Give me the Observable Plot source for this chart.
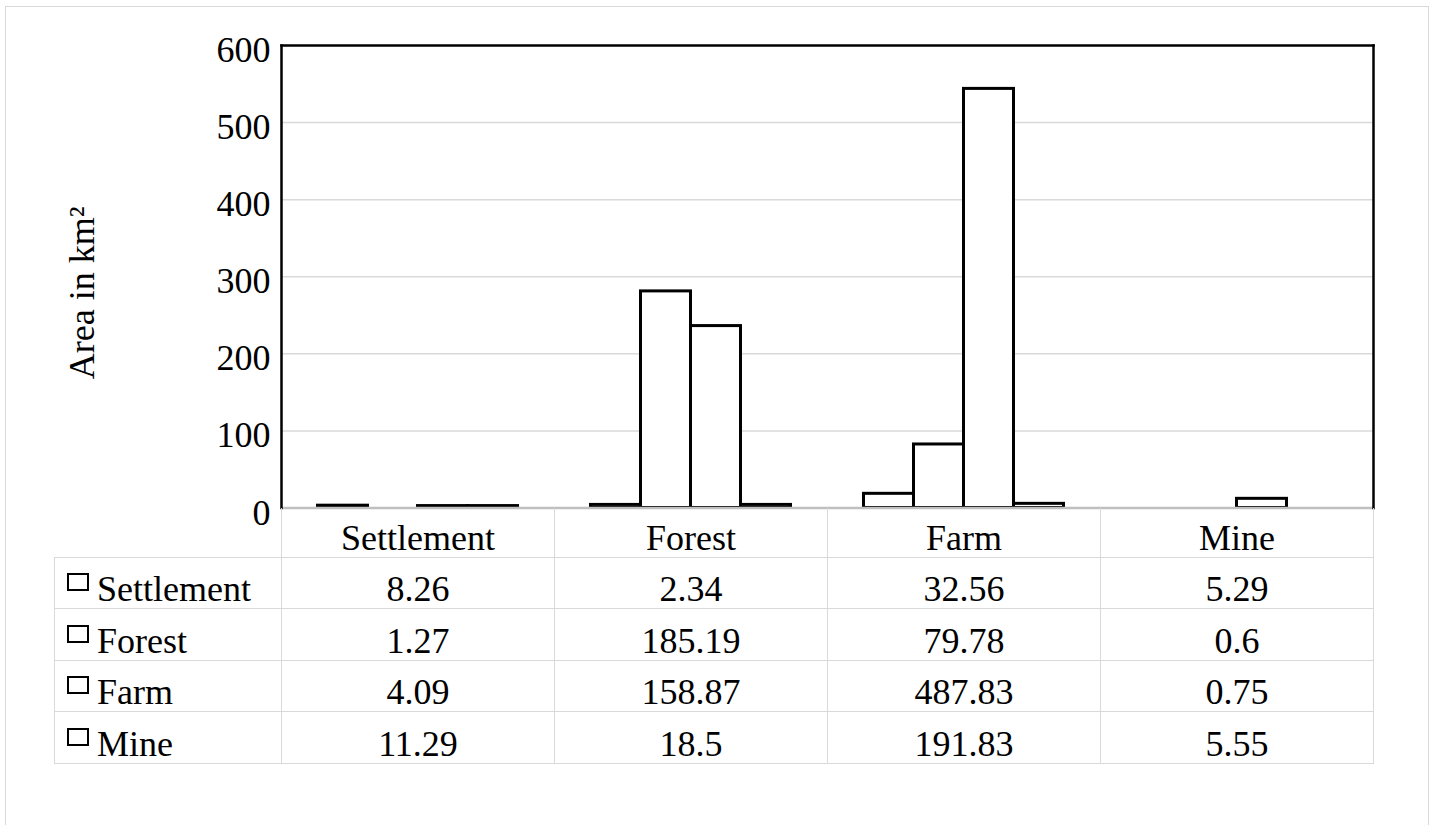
<!DOCTYPE html>
<html><head><meta charset="utf-8">
<script src="https://cdn.jsdelivr.net/npm/d3@7"></script>
<script src="https://cdn.jsdelivr.net/npm/@observablehq/plot@0.6"></script>
<style>
html,body{margin:0;padding:0;background:#fff;}
#wrap{position:relative;width:1435px;height:825px;overflow:hidden;color:#000;background:#fff;font-family:'Liberation Serif';}
#border{position:absolute;left:5px;top:6px;width:1424px;height:822px;border:1.5px solid #d9d9d9;box-sizing:border-box;}
#chart{position:absolute;left:0;top:0;}
#table{position:absolute;left:54px;top:508px;border-collapse:collapse;table-layout:fixed;font-size:36px;line-height:1;font-family:'Liberation Serif';}
#table th,#table td{padding:0;text-align:center;font-weight:normal;white-space:nowrap;}
#table th{height:49px;border-left:1.5px solid #d9d9d9;border-right:1.5px solid #d9d9d9;border-top:none;vertical-align:bottom;padding-bottom:1px;box-sizing:border-box;}
#table th.corner{border:none;}
#table td{height:51.5px;border:1.5px solid #d9d9d9;vertical-align:bottom;padding-bottom:1px;box-sizing:border-box;}
#table td.rowhead{text-align:left;padding-left:12px;}
.key{display:inline-block;width:22px;height:18px;border:2.5px solid #000;box-sizing:border-box;margin-right:8px;position:relative;top:-10px;vertical-align:baseline;}
</style>
</head><body>
<div id="wrap">
  <div id="border"></div>
  <div id="chart"></div>
  <table id="table"></table>
</div>
<script>
const FONT = "Liberation Serif";

// Categories on the x axis and series (legend keys)
const categories = ["Settlement", "Forest", "Farm", "Mine"];
const seriesNames = ["Settlement", "Forest", "Farm", "Mine"];

// Bar heights as drawn in the picture (km²), one array per series across categories
const barSettlement = [3, 4, 18.4, 0];
const barForest = [0, 281, 82.4, 0];
const barFarm = [2.5, 236, 543.7, 11.9];
const barMine = [2.5, 4, 5.4, 0];

// Data table values printed under the chart, one array per series across categories
const tableSettlement = ["8.26", "2.34", "32.56", "5.29"];
const tableForest = ["1.27", "185.19", "79.78", "0.6"];
const tableFarm = ["4.09", "158.87", "487.83", "0.75"];
const tableMine = ["11.29", "18.5", "191.83", "5.55"];

// Y axis
const yTicks = [0, 100, 200, 300, 400, 500, 600];
const yLabel = "Area in km²";

const barSeries = [barSettlement, barForest, barFarm, barMine];
const tableSeries = [tableSettlement, tableForest, tableFarm, tableMine];

const bars = [];
seriesNames.forEach((s, i) => categories.forEach((c, j) => {
  bars.push({cat: c, series: s, value: barSeries[i][j]});
}));

const chart = Plot.plot({
  width: 1435,
  height: 530,
  marginLeft: 281,
  marginRight: 62,
  marginTop: 45,
  marginBottom: 22.5,
  style: {fontFamily: FONT, fontSize: "36px", color: "#000", background: "transparent", overflow: "visible"},
  fx: {domain: categories, padding: 0, axis: null},
  x: {domain: seriesNames, paddingInner: 0, paddingOuter: 0.73, round: false, axis: null},
  y: {domain: [0, 600], axis: null},
  marks: [
    Plot.ruleY(yTicks.filter(d => d > 0 && d < 600), {stroke: "#d9d9d9", strokeWidth: 1.5}),
    Plot.barY(bars.filter(d => d.value > 0), {fx: "cat", x: "series", y: "value", fill: "white", stroke: "black", strokeWidth: 3}),
    Plot.ruleY([0], {stroke: "#bfbfbf", strokeWidth: 2.5}),
    Plot.frame({facet: "super", anchor: "left", stroke: "black", strokeWidth: 2.5}),
    Plot.frame({facet: "super", anchor: "top", stroke: "black", strokeWidth: 2.5}),
    Plot.frame({facet: "super", anchor: "right", stroke: "black", strokeWidth: 2.5}),
    Plot.axisY({ticks: yTicks, tickSize: 0, tickPadding: 11, fontSize: 36, dy: 5,
      label: yLabel, labelAnchor: "center", labelArrow: "none", labelOffset: 213})
  ]
});
document.getElementById("chart").appendChild(chart);
chart.querySelectorAll("text").forEach(t => {
  if (t.textContent === yLabel) { t.setAttribute("font-size", "36"); t.setAttribute("dx", "-16"); }
});

// Build the data table
const table = document.getElementById("table");
const colgroup = document.createElement("colgroup");
[227, 273, 273, 273, 273].forEach(w => { const col = document.createElement("col"); col.style.width = w + "px"; colgroup.appendChild(col); });
table.appendChild(colgroup);
const head = document.createElement("tr");
const corner = document.createElement("th"); corner.className = "corner"; head.appendChild(corner);
categories.forEach(c => { const th = document.createElement("th"); th.textContent = c; head.appendChild(th); });
table.appendChild(head);
seriesNames.forEach((s, i) => {
  const tr = document.createElement("tr");
  const th = document.createElement("td"); th.className = "rowhead";
  const key = document.createElement("span"); key.className = "key"; th.appendChild(key);
  th.appendChild(document.createTextNode(s));
  tr.appendChild(th);
  tableSeries[i].forEach(v => { const td = document.createElement("td"); td.textContent = v; tr.appendChild(td); });
  table.appendChild(tr);
});
</script>
</body></html>
